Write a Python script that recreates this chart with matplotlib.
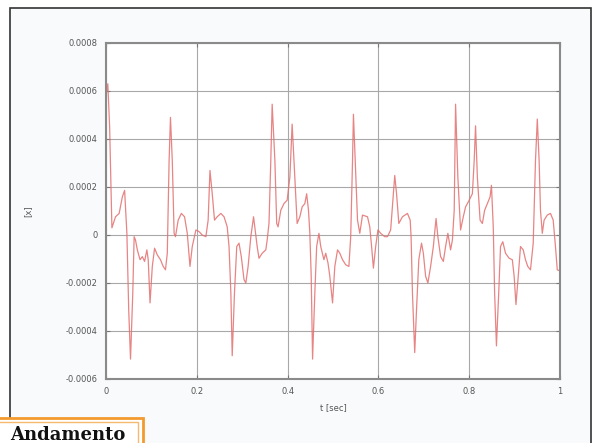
import matplotlib
matplotlib.use("Agg")
import matplotlib.pyplot as plt
from matplotlib.patches import Rectangle

# ---- data (t in seconds, x in units of 1e-4) ----
t = [0.000, 0.004, 0.008, 0.013, 0.021, 0.029, 0.036, 0.041, 0.046, 0.050,
     0.054, 0.059, 0.062, 0.065, 0.069, 0.075, 0.080, 0.085, 0.090, 0.093,
     0.097, 0.102, 0.107, 0.113, 0.120, 0.126, 0.131, 0.135, 0.139, 0.142,
     0.146, 0.150, 0.153, 0.159, 0.166, 0.173, 0.179, 0.185, 0.190, 0.198,
     0.205, 0.212, 0.220, 0.225, 0.229, 0.234, 0.239, 0.245, 0.253, 0.260,
     0.267, 0.271, 0.275, 0.278, 0.283, 0.288, 0.293, 0.298, 0.304, 0.308,
     0.313, 0.319, 0.325, 0.333, 0.337, 0.344, 0.352, 0.355, 0.359, 0.363,
     0.366, 0.372, 0.376, 0.379, 0.385, 0.392, 0.399, 0.405, 0.410, 0.416,
     0.421, 0.427, 0.432, 0.438, 0.442, 0.446, 0.449, 0.452, 0.455, 0.460,
     0.464, 0.469, 0.473, 0.480, 0.484, 0.489, 0.493, 0.499, 0.504, 0.510,
     0.515, 0.521, 0.528, 0.535, 0.539, 0.543, 0.545, 0.549, 0.554, 0.559,
     0.565, 0.576, 0.581, 0.585, 0.589, 0.594, 0.599, 0.605, 0.614, 0.620,
     0.627, 0.633, 0.636, 0.640, 0.645, 0.653, 0.664, 0.670, 0.672, 0.675,
     0.680, 0.684, 0.689, 0.695, 0.699, 0.704, 0.709, 0.715, 0.721, 0.727,
     0.731, 0.737, 0.743, 0.748, 0.753, 0.759, 0.763, 0.767, 0.770, 0.775,
     0.781, 0.787, 0.792, 0.800, 0.807, 0.811, 0.814, 0.818, 0.824, 0.829,
     0.834, 0.840, 0.846, 0.849, 0.853, 0.856, 0.860, 0.865, 0.869, 0.874,
     0.880, 0.888, 0.895, 0.899, 0.903, 0.908, 0.913, 0.919, 0.924, 0.929,
     0.935, 0.941, 0.946, 0.950, 0.954, 0.957, 0.961, 0.965, 0.972, 0.979,
     0.985, 0.990, 0.994, 1.000]
x_e4 = [5.8, 6.3, 4.5, 0.3, 0.76, 0.90, 1.59, 1.86, 0.07, -3.1,
        -5.17, -2.41, -0.07, -0.21, -0.62, -1.03, -0.90, -1.10, -0.62, -1.03,
        -2.83, -1.31, -0.55, -0.83, -1.03, -1.31, -1.45, -0.76, 3.10, 4.90,
        3.10, 0.07, -0.07, 0.62, 0.90, 0.76, 0.07, -1.31, -0.48, 0.21,
        0.14, 0.0, -0.07, 0.62, 2.69, 1.72, 0.62, 0.76, 0.90, 0.76,
        0.34, -0.48, -2.41, -5.03, -2.41, -0.48, -0.34, -0.90, -1.86, -2.0,
        -1.31, -0.07, 0.76, -0.48, -0.97, -0.76, -0.62, -0.21, 0.48, 3.10,
        5.45, 3.10, 0.48, 0.34, 1.03, 1.31, 1.45, 2.41, 4.62, 2.41,
        0.48, 0.76, 1.17, 1.31, 1.72, 1.03, 0.07, -1.72, -5.17, -2.41,
        -0.48, 0.07, -0.48, -1.03, -0.76, -1.17, -1.72, -2.83, -1.31, -0.62,
        -0.76, -1.03, -1.24, -1.31, -0.07, 3.10, 5.03, 3.10, 0.62, 0.07,
        0.83, 0.76, 0.34, -0.48, -1.38, -0.48, 0.21, 0.07, -0.07, -0.07,
        0.21, 1.72, 2.48, 1.72, 0.48, 0.76, 0.90, 0.62, -0.07, -2.41,
        -4.90, -3.10, -1.03, -0.34, -0.76, -1.72, -2.0, -1.31, -0.48, 0.69,
        -0.07, -0.90, -1.10, -0.48, 0.07, -0.62, -0.21, 1.03, 5.45, 2.41,
        0.21, 0.76, 1.17, 1.45, 1.72, 3.10, 4.55, 2.41, 0.62, 0.48,
        1.03, 1.31, 1.59, 2.07, 0.34, -2.41, -4.62, -2.41, -0.48, -0.28,
        -0.76, -0.97, -1.03, -1.72, -2.90, -1.72, -0.48, -0.62, -1.03, -1.31,
        -1.45, -0.34, 3.10, 4.83, 3.10, 1.03, 0.07, 0.62, 0.83, 0.90,
        0.62, -0.48, -1.45, -1.5]
x_vals = [v * 1e-4 for v in x_e4]

xticks = [0, 0.2, 0.4, 0.6, 0.8, 1]
xtick_labels = ["0", "0.2", "0.4", "0.6", "0.8", "1"]
yticks = [-0.0006, -0.0004, -0.0002, 0, 0.0002, 0.0004, 0.0006, 0.0008]
ytick_labels = ["-0.0006", "-0.0004", "-0.0002", "0", "0.0002", "0.0004", "0.0006", "0.0008"]

W, H = 594, 443
fig = plt.figure(figsize=(W / 100, H / 100), dpi=100, facecolor="white")


def px(x, y):
    return x / W, 1 - y / H


# outer frame (behind the axes)
fx0, fy0 = px(10, 8)
fx1, fy1 = px(591, 446)
fig.patches.append(Rectangle((fx0, fy1), fx1 - fx0, fy0 - fy1, transform=fig.transFigure,
                             facecolor="#f8fafb", edgecolor="#333333", lw=1.2, zorder=-5))

ax = fig.add_axes([106 / W, 1 - 379 / H, (560 - 106) / W, (379 - 43) / H])
ax.set_zorder(2)
ax.set_facecolor("white")
ax.plot(t, x_vals, color="#e36f6f", lw=0.9, alpha=0.85)
ax.set_xlim(0, 1)
ax.set_ylim(-0.0006, 0.0008)
ax.set_xticks(xticks)
ax.set_xticklabels(xtick_labels)
ax.set_yticks(yticks)
ax.set_yticklabels(ytick_labels)
ax.grid(True, color="#a8a8a8", lw=0.8)
for s in ax.spines.values():
    s.set_color("#8a8a8a")
    s.set_linewidth(1.5)
ax.tick_params(direction="in", length=3, color="#777777", top=True, right=True,
               labelsize=6, labelcolor="#555555", pad=6)
ax.set_xlabel("t [sec]", fontsize=6, color="#555555", labelpad=5)
ax.set_ylabel("[x]", fontsize=6, color="#555555", labelpad=24)

# orange labelled box at the bottom left
bx0, by0 = px(-2, 418)
bx1, by1 = px(143, 446)
fig.patches.append(Rectangle((bx0, by1), bx1 - bx0, by0 - by1, transform=fig.transFigure,
                             facecolor="white", edgecolor="#f39a2e", lw=2.0, zorder=3))
ix0, iy0 = px(-2, 422)
ix1, iy1 = px(138, 446)
fig.patches.append(Rectangle((ix0, iy1), ix1 - ix0, iy0 - iy1, transform=fig.transFigure,
                             facecolor="none", edgecolor="#f7b870", lw=1.0, zorder=4))
tx, ty = px(10, 426)
fig.text(tx, ty, "Andamento", fontsize=13, fontweight="bold", family="DejaVu Serif",
         color="#111111", va="top", ha="left", zorder=5)

fig.savefig("out.png", dpi=100, facecolor="white")
